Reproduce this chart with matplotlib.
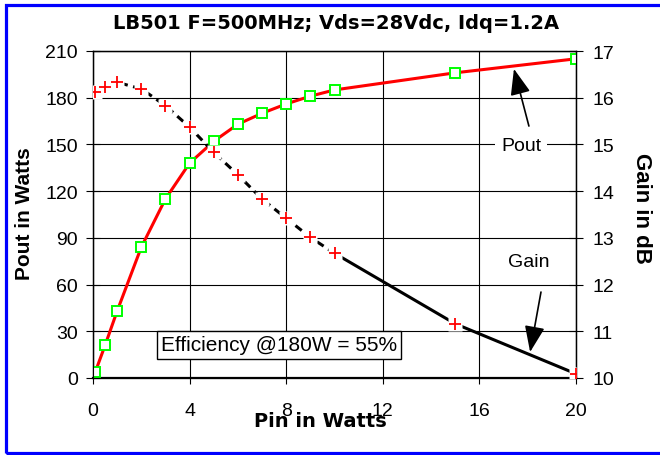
import matplotlib
matplotlib.use("Agg")
import matplotlib.pyplot as plt
from matplotlib.patches import Rectangle

plt.rcParams['font.family'] = ['Liberation Sans', 'DejaVu Sans']

pin = [0.1, 0.5, 1, 2, 3, 4, 5, 6, 7, 8, 9, 10, 15, 20]
pout = [4.1, 21, 43, 84, 115, 138, 152, 163, 170, 176, 181, 185, 196, 205]
gain = [16.12, 16.22, 16.33, 16.19, 15.83, 15.37, 14.83, 14.35, 13.83, 13.42, 13.01, 12.67, 11.16, 10.09]

x_ticks = [0, 4, 8, 12, 16, 20]
pout_ticks = [0, 30, 60, 90, 120, 150, 180, 210]
gain_ticks = [10, 11, 12, 13, 14, 15, 16, 17]

W, H = 660, 456
fig = plt.figure(figsize=(W / 100, H / 100), dpi=100)
ax = fig.add_axes([93 / W, 1 - 379 / H, (576 - 93) / W, (379 - 52) / H])

# blue frame around the figure (right side runs off the image)
fig.patches.append(Rectangle((5.5 / W, 2.5 / H), 1.2, 1 - 8.5 / H, transform=fig.transFigure,
                             fill=False, ec='#0000ff', lw=2.3))

ax.set_xlim(0, 20)
ax.set_ylim(0, 210)
ax.set_xticks(x_ticks)
ax.set_yticks(pout_ticks)
ax.grid(True, color='black', lw=0.8)
ax.set_axisbelow(True)
for s in ax.spines.values():
    s.set_linewidth(1.0)
ax.spines['bottom'].set_linewidth(1.6)
ax.tick_params(axis='x', direction='out', length=4, width=0.8, labelsize=14, pad=13)
ax.tick_params(axis='y', direction='inout', length=10, width=0.8, labelsize=14, pad=6)

# Pout curve
ax.plot(pin, pout, color='red', lw=2.2, zorder=3)
ax.plot(pin, pout, ls='none', marker='s', ms=7.5, mfc='white', mec='#00ff00', mew=1.4, zorder=4)

# Gain curve on right axis
ax2 = ax.twinx()
ax2.set_ylim(10, 17)
ax2.set_yticks(gain_ticks)
ax2.tick_params(axis='y', direction='inout', length=10, width=0.8, labelsize=14, pad=7)
ax2.plot(pin[:12], gain[:12], color='black', lw=2.2, dashes=(2.6, 1.8), zorder=3)
ax2.plot(pin[11:], gain[11:], color='black', lw=2.2, zorder=3)
ax2.plot(pin, gain, ls='none', marker='s', ms=10, mfc='white', mec='none', zorder=4)
ax2.plot(pin, gain, ls='none', marker='+', ms=8, color='red', mew=1.3, zorder=5)

# annotations: labels and arrows drawn separately
arrow = dict(arrowstyle='-|>,head_length=1.6,head_width=0.62', color='black', lw=1.2,
             shrinkA=0, shrinkB=0)
ax.text(17.72, 149, 'Pout', ha='center', va='center', fontsize=14, zorder=6,
        bbox=dict(boxstyle='square,pad=0.3', fc='white', ec='none'))
ax.annotate('', xy=(17.43, 198.5), xytext=(18.05, 161.8), arrowprops=arrow, zorder=6)
ax.text(18.05, 74.5, 'Gain', ha='center', va='center', fontsize=14, zorder=6)
ax.annotate('', xy=(18.1, 16.7), xytext=(18.55, 55.2), arrowprops=arrow, zorder=6)

ax.text(7.7, 21.2, 'Efficiency @180W = 55%', ha='center', va='center', fontsize=15, zorder=6,
        bbox=dict(boxstyle='square,pad=0.2', fc='white', ec='black', lw=1.0))

fig.text(336 / W, 1 - 24 / H, 'LB501 F=500MHz; Vds=28Vdc, Idq=1.2A', ha='center', va='center',
         fontsize=14, fontweight='bold', family='DejaVu Sans')
fig.text(25 / W, 1 - 214 / H, 'Pout in Watts', rotation=90, ha='center', va='center',
         fontsize=15, fontweight='bold')
fig.text(641 / W, 1 - 208 / H, 'Gain in dB', rotation=270, ha='center', va='center',
         fontsize=16, fontweight='bold')
fig.text(320 / W, 1 - 422 / H, 'Pin in Watts', ha='center', va='center',
         fontsize=14, fontweight='bold', family='DejaVu Sans')

fig.savefig('out.png', dpi=100)
